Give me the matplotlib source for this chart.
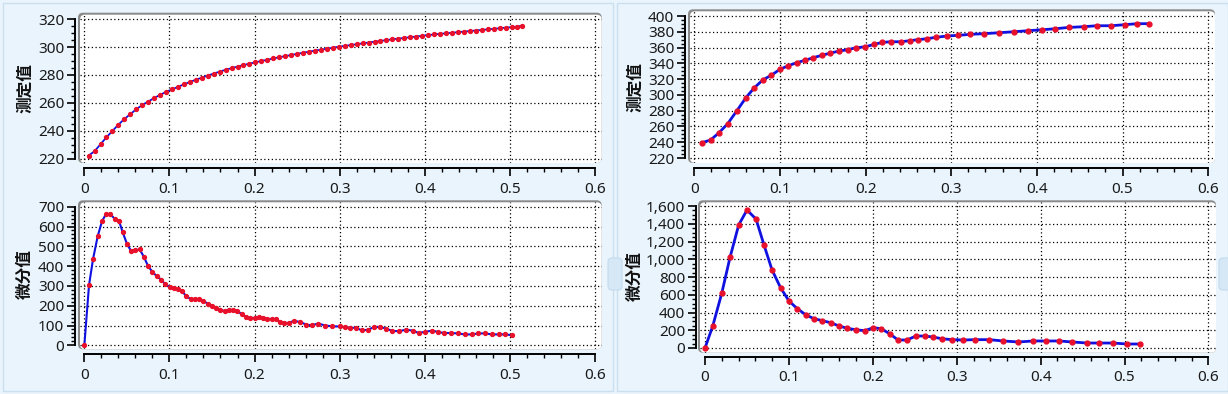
import numpy as np
import matplotlib
matplotlib.use('Agg')
import matplotlib.pyplot as plt
from matplotlib.patches import FancyBboxPatch, Rectangle
from matplotlib.ticker import MultipleLocator, FixedLocator, FuncFormatter

# measured curve, left panel
left_meas_x = [0.005, 0.012, 0.019, 0.026, 0.033, 0.040, 0.047, 0.054, 0.061, 0.068,
               0.075, 0.082, 0.089, 0.096, 0.103, 0.110, 0.117, 0.124, 0.131, 0.138,
               0.145, 0.152, 0.159, 0.166, 0.173, 0.180, 0.187, 0.194, 0.201, 0.208,
               0.215, 0.222, 0.229, 0.236, 0.243, 0.250, 0.257, 0.264, 0.271, 0.278,
               0.285, 0.292, 0.299, 0.306, 0.313, 0.320, 0.327, 0.334, 0.341, 0.348,
               0.355, 0.362, 0.369, 0.376, 0.383, 0.390, 0.397, 0.404, 0.411, 0.418,
               0.425, 0.432, 0.439, 0.446, 0.453, 0.460, 0.467, 0.474, 0.481, 0.488,
               0.495, 0.502, 0.509, 0.514]
left_meas_y = [222.4, 225.5, 230.5, 235.5, 240.0, 244.5, 248.5, 252.0, 255.5, 258.5,
               261.0, 263.5, 265.8, 267.9, 269.7, 271.5, 273.3, 275.0, 276.6, 278.1,
               279.6, 281.0, 282.4, 283.7, 284.9, 286.0, 287.1, 288.1, 289.1, 290.0,
               290.9, 291.8, 292.7, 293.5, 294.3, 295.1, 295.9, 296.7, 297.4, 298.1,
               298.8, 299.5, 300.2, 300.8, 301.4, 302.0, 302.6, 303.2, 303.8, 304.4,
               304.9, 305.5, 306.0, 306.5, 307.0, 307.5, 308.0, 308.5, 309.0, 309.4,
               309.8, 310.2, 310.6, 311.0, 311.4, 311.8, 312.2, 312.6, 313.0, 313.4,
               313.8, 314.2, 314.6, 315.2]

# derivative curve, left panel
left_diff_x = [0, 0.0055, 0.0102, 0.0157, 0.0208, 0.0255, 0.0302, 0.036, 0.0408, 0.0451,
               0.0502, 0.0549, 0.0596, 0.0651, 0.0702, 0.0749, 0.080, 0.0851, 0.0902, 0.0949,
               0.1003, 0.1054, 0.1101, 0.1148, 0.1198, 0.1248, 0.1298, 0.1350, 0.1398, 0.1448,
               0.1498, 0.1548, 0.1598, 0.1648, 0.1698, 0.1748, 0.1798, 0.1848, 0.1898, 0.1948,
               0.2000, 0.2050, 0.2100, 0.2150, 0.2200, 0.2250, 0.2300, 0.2350, 0.2400, 0.2460,
               0.2535, 0.261, 0.267, 0.275, 0.283, 0.291, 0.300, 0.306, 0.312, 0.319,
               0.326, 0.333, 0.340, 0.348, 0.355, 0.362, 0.370, 0.378, 0.386, 0.393,
               0.400, 0.409, 0.416, 0.423, 0.431, 0.439, 0.447, 0.455, 0.463, 0.471,
               0.479, 0.487, 0.494, 0.503]
left_diff_y = [0, 304, 435, 551, 627, 663, 663, 638, 627, 571,
               511, 477, 480, 484, 445, 400, 371, 349, 332, 309,
               295, 287, 283, 273, 248, 234, 233, 233, 224, 211,
               201, 186, 177, 174, 180, 178, 174, 157, 143, 138,
               138, 142, 137, 133, 133, 133, 118, 113, 113, 123,
               118, 104, 101, 110, 100, 96, 95, 91, 89, 88,
               76, 78, 91, 93, 83, 73, 71, 79, 74, 62,
               68, 74, 67, 62, 62, 60, 55, 55, 60, 60,
               55, 55, 55, 51]

# measured curve, right panel
right_meas_x = [0.0086, 0.019, 0.0288, 0.039, 0.0495, 0.0603, 0.070, 0.080, 0.090, 0.100,
                0.1097, 0.1195, 0.129, 0.139, 0.149, 0.1588, 0.169, 0.179, 0.1888, 0.1996,
                0.2098, 0.2195, 0.2296, 0.2413, 0.2514, 0.2608, 0.2713, 0.282, 0.2953, 0.308,
                0.322, 0.338, 0.3557, 0.3732, 0.390, 0.4062, 0.4214, 0.4377, 0.4552, 0.4697,
                0.4868, 0.5024, 0.5171, 0.5304]
right_meas_y = [239.4, 242.8, 252, 263.5, 279.6, 296.5, 309, 319, 325, 332.4,
                337, 340.8, 343.8, 347.2, 350.2, 353, 355.6, 357.3, 359.8, 361,
                364, 366.6, 367.4, 367.4, 368.7, 370, 371.2, 373, 374.7, 375.5,
                376.8, 377.6, 378.8, 380.1, 381.4, 382.6, 383.9, 385.6, 386.5, 387.7,
                387.7, 389, 390.3, 390.3]

# derivative curve, right panel
right_diff_x = [0, 0.0092, 0.0199, 0.0298, 0.0401, 0.050, 0.0608, 0.0703, 0.0799, 0.090,
                0.100, 0.110, 0.1204, 0.130, 0.1398, 0.1498, 0.1597, 0.1696, 0.1796, 0.1903,
                0.2006, 0.2101, 0.2205, 0.230, 0.2404, 0.2515, 0.262, 0.2714, 0.2821, 0.294,
                0.3079, 0.3218, 0.3385, 0.3556, 0.3734, 0.3913, 0.4064, 0.4223, 0.4374, 0.4557,
                0.470, 0.4859, 0.5033, 0.5185]
right_diff_y = [0, 248, 616, 1022, 1386, 1555, 1453, 1160, 879, 680,
                530, 443, 372, 330, 308, 285, 248, 222, 206, 195,
                229, 217, 158, 90, 90, 135, 135, 124, 105, 94,
                90, 94, 94, 79, 68, 79, 79, 79, 68, 56,
                56, 56, 45, 45]

x_ticks = [0, 0.1, 0.2, 0.3, 0.4, 0.5, 0.6]
meas_label = '测定值'
diff_label = '微分值'

W, H = 1228, 394
BG = '#e9f4fc'
BLUE = '#1010e0'
RED = '#e8102a'
PT = 0.72  # px -> pt at dpi 100

plt.rcParams['font.family'] = ['Noto Sans', 'DejaVu Sans']

fig = plt.figure(figsize=(W / 100, H / 100), dpi=100, facecolor=BG)

# panel borders
for (x0, x1) in [(3, 613), (617, 1228)]:
    fig.patches.append(Rectangle((x0 / W, 3 / H), (x1 - x0) / W, (H - 6) / H,
                                 transform=fig.transFigure, facecolor='none',
                                 edgecolor='#cbe0ef', lw=1, zorder=-3))
# cut-off side buttons
for bx in [608, 1219]:
    fig.patches.append(FancyBboxPatch((bx / W, 1 - 290 / H), 14 / W, 32 / H,
                                      boxstyle='round,pad=0,rounding_size=%f' % (4 / W),
                                      mutation_aspect=W / H, transform=fig.transFigure,
                                      facecolor='#d6e7f5', edgecolor='#c4dbee', lw=0.8,
                                      zorder=-2))


def frame(x0, y0, x1, y1):
    # white rounded plot box with a gray edge on top and left
    r = 5
    for dx, dy, fc in [(-2, -2, '#8a8a8a'), (0, 0, 'white')]:
        fig.patches.append(FancyBboxPatch(((x0 + dx) / W, 1 - y1 / H),
                                          (x1 - x0 - dx) / W, (y1 - y0 - dy) / H,
                                          boxstyle='round,pad=0,rounding_size=%f' % (r / W),
                                          mutation_aspect=W / H, transform=fig.transFigure,
                                          facecolor=fc, edgecolor='none', zorder=-1))


def panel(box, xs, ys, xlim, ylim, yticks, n_minor, label, label_pos,
          comma=False, lw=1.5, ms=3.4, out=5):
    x0, y0, x1, y1 = box
    frame(x0, y0, x1, y1)
    ax = fig.add_axes([x0 / W, 1 - y1 / H, (x1 - x0) / W, (y1 - y0) / H])
    ax.set_facecolor('none')
    ax.set_axisbelow(True)

    ax.plot(xs, ys, color=BLUE, lw=lw, marker='o', ms=ms, mfc=RED, mec=RED,
            zorder=3, clip_on=False)

    ax.set_xlim(xlim)
    ax.set_ylim(ylim)
    ax.set_xticks(x_ticks)
    ax.xaxis.set_minor_locator(MultipleLocator(0.02))
    ax.xaxis.set_major_formatter(FuncFormatter(lambda v, p: '0' if abs(v) < 1e-9 else f'{v:.1f}'))
    ax.set_yticks(yticks)
    step = (yticks[1] - yticks[0]) / n_minor
    ax.yaxis.set_minor_locator(FixedLocator(np.arange(yticks[0], yticks[-1] + step / 2, step)))
    if comma:
        ax.yaxis.set_major_formatter(FuncFormatter(lambda v, p: f'{v:,.0f}'))
    else:
        ax.yaxis.set_major_formatter(FuncFormatter(lambda v, p: f'{v:.0f}'))

    ax.grid(True, which='major', color='black', linestyle=(0, (1, 2)), lw=0.9)

    for s in ['top', 'right']:
        ax.spines[s].set_visible(False)
    for s in ['left', 'bottom']:
        ax.spines[s].set_position(('outward', out * PT))
        ax.spines[s].set_linewidth(1.4)
    ax.spines['left'].set_bounds(yticks[0], yticks[-1])
    ax.spines['bottom'].set_bounds(0, 0.6)

    ax.tick_params(which='major', length=8 * PT, width=1.2, color='black',
                   labelsize=11, labelcolor='#1a1a1a')
    ax.tick_params(which='minor', length=4 * PT, width=1.0, color='black')
    ax.tick_params(axis='y', pad=2)
    ax.tick_params(axis='x', pad=4)

    fig.text(label_pos[0] / W, 1 - label_pos[1] / H, label, rotation=90,
             ha='center', va='center', fontsize=12, fontweight='heavy',
             family=['Noto Sans CJK SC', 'DejaVu Sans'], color='#111111')
    return ax


panel((80, 14.7, 601.7, 163), left_meas_x, left_meas_y, (-0.0051, 0.608), (217.1, 323.1),
      [220, 240, 260, 280, 300, 320], 4, meas_label, (25, 88.5), lw=1.3, ms=2.8)
panel((80, 202.3, 601.7, 349.3), left_diff_x, left_diff_y, (-0.0051, 0.608), (-20.2, 722.3),
      [0, 100, 200, 300, 400, 500, 600, 700], 5, diff_label, (25, 274), lw=1.5, ms=2.8)
panel((690, 11.3, 1215, 163), right_meas_x, right_meas_y, (-0.005, 0.608), (213.7, 406),
      [220, 240, 260, 280, 300, 320, 340, 360, 380, 400], 4, meas_label, (635, 87),
      lw=2.0, ms=3.5)
panel((700, 202.3, 1216, 352.7), right_diff_x, right_diff_y, (-0.006, 0.609), (-53, 1642),
      [0, 200, 400, 600, 800, 1000, 1200, 1400, 1600], 4, diff_label, (635, 276),
      comma=True, lw=2.0, ms=3.5, out=4)

fig.savefig('out.png', dpi=100, facecolor=BG)
